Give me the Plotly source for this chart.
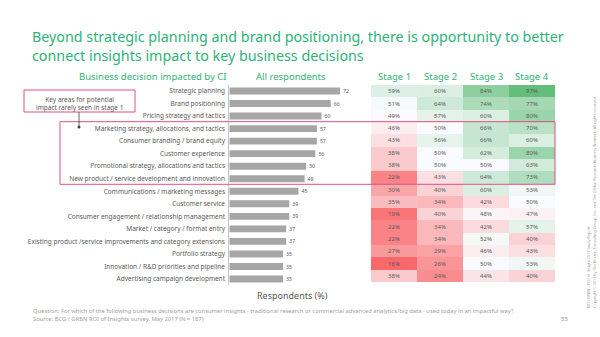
import plotly.graph_objects as go

W, H = 600, 337

# Survey data: share of respondents reporting CI impact per business decision
decisions = [
    "Strategic planning",
    "Brand positioning",
    "Pricing strategy and tactics",
    "Marketing strategy, allocations, and tactics",
    "Consumer branding / brand equity",
    "Customer experience",
    "Promotional strategy, allocations and tactics",
    "New product / service development and innovation",
    "Communications / marketing messages",
    "Customer service",
    "Consumer engagement / relationship management",
    "Market / category / format entry",
    "Existing product /service improvements and category extensions",
    "Portfolio strategy",
    "Innovation / R&D priorities and pipeline",
    "Advertising campaign development",
]
all_respondents = [72, 66, 60, 57, 57, 56, 50, 49, 45, 39, 39, 37, 37, 35, 35, 35]

stages = ["Stage 1", "Stage 2", "Stage 3", "Stage 4"]
stage1 = [59, 51, 49, 46, 43, 38, 38, 22, 30, 35, 19, 22, 22, 27, 16, 38]
stage2 = [60, 64, 57, 50, 56, 50, 50, 43, 40, 34, 40, 34, 34, 29, 26, 24]
stage3 = [84, 74, 60, 66, 66, 62, 50, 64, 60, 42, 48, 42, 52, 46, 50, 44]
stage4 = [97, 77, 80, 70, 60, 80, 63, 73, 53, 50, 47, 57, 40, 43, 53, 40]

FONT = "Noto Sans"
GREEN = "#2DB37A"
PINK = "#E0507F"
GREY_TXT = "#5A5A5A"
BAR = "#A6A6A6"


def px(x):
    return x / W


def py(y):
    return 1 - y / H


z = [list(r) for r in zip(stage1, stage2, stage3, stage4)]
zmin, zmax, zmid = 16, 97, 49.5
colorscale = [
    [0.0, "#F8696B"],
    [(zmid - zmin) / (zmax - zmin), "#FCFCFF"],
    [1.0, "#63BE7B"],
]

fig = go.Figure()

fig.add_trace(go.Bar(
    x=all_respondents, y=decisions, orientation="h",
    marker=dict(color=BAR, line=dict(width=0)),
    text=[str(v) for v in all_respondents], textposition="outside",
    textfont=dict(size=7.5, color=GREY_TXT, family=FONT),
    cliponaxis=False, xaxis="x", yaxis="y", hoverinfo="skip",
))

fig.add_trace(go.Heatmap(
    z=z, x=stages, y=decisions, xaxis="x2", yaxis="y2",
    colorscale=colorscale, zmin=zmin, zmax=zmax, showscale=False,
    texttemplate="%{z}%", textfont=dict(size=6, color=GREY_TXT, family=FONT),
    hoverinfo="skip",
))

scale = 1.537  # px per percentage point
x0_bar = 229.3
fig.update_layout(
    width=W, height=H, margin=dict(l=0, r=0, t=0, b=0),
    paper_bgcolor="white", plot_bgcolor="rgba(0,0,0,0)",
    showlegend=False, bargap=0.45,
    font=dict(family=FONT, color=GREY_TXT),
    xaxis=dict(domain=[px(x0_bar), px(x0_bar + scale * 90)], range=[0, 90],
               visible=False, fixedrange=True),
    yaxis=dict(domain=[py(285.3), py(84.7)], autorange="reversed",
               categoryorder="array", categoryarray=decisions,
               showline=True, linecolor="#C8C8C8", linewidth=1,
               ticks="", showgrid=False, zeroline=False,
               tickfont=dict(size=6.5, color=GREY_TXT, family=FONT),
               ticklabelstandoff=2),
    xaxis2=dict(domain=[px(371), px(555)], visible=False, fixedrange=True),
    yaxis2=dict(domain=[py(282.3), py(85)], autorange="reversed",
                categoryorder="array", categoryarray=decisions,
                visible=False),
)

ann = []


def text(x, y, s, size, color, xanchor="left", yanchor="middle", **kw):
    ann.append(dict(x=px(x), y=py(y), xref="paper", yref="paper", text=s,
                    showarrow=False, xanchor=xanchor, yanchor=yanchor,
                    font=dict(size=size, color=color, family=FONT), **kw))


# Title
text(30, 45.8,
     "Beyond strategic planning and brand positioning, there is opportunity to better"
     "<br>connect insights impact to key business decisions",
     14.3, GREEN, align="left")

# Column headers
text(152.5, 76, "Business decision impacted by CI", 9.5, GREEN, xanchor="center")
text(291, 76, "All respondents", 9.5, GREEN, xanchor="center")
for i, s in enumerate(stages):
    ann.append(dict(x=i, y=py(76), xref="x2", yref="paper", text=s, showarrow=False,
                    xanchor="center", yanchor="middle",
                    font=dict(size=9.5, color=GREEN, family=FONT)))

# Axis title
text(292, 295, "Respondents (%)", 9, GREY_TXT, xanchor="center")

# Callout text
text(79.5, 103, "Key areas for potential<br>impact rarely seen in stage 1", 6.5, GREY_TXT, xanchor="center")

# Footnotes
text(30.5, 314.7,
     "Question: For which of the following business decisions are consumer insights - traditional research or commercial advanced analytics/big data - used today in an impactful way?"
     "<br>Source: BCG / GRBN ROI of Insights survey, May 2017 (N = 187)",
     5.8, "#A0A0A0", align="left")
text(564, 319, "55", 6, "#909090", xanchor="center")

# Vertical copyright lines
ann.append(dict(x=px(587.7), y=py(310), xref="paper", yref="paper",
                text="BCG GRBN – ROI of Insight 2017 Study Report", showarrow=False,
                textangle=-90, xanchor="center", yanchor="bottom",
                font=dict(size=3.8, color="#A0A0A0", family=FONT)))
ann.append(dict(x=px(594), y=py(310), xref="paper", yref="paper",
                text="Copyright © 2017 by The Boston Consulting Group, Inc. and The Global Research Business Network. All rights reserved.",
                showarrow=False, textangle=-90, xanchor="center", yanchor="bottom",
                font=dict(size=3.8, color="#A0A0A0", family=FONT)))

fig.update_layout(annotations=ann)

shapes = [
    # callout box
    dict(type="rect", xref="paper", yref="paper", x0=px(24), x1=px(135), y0=py(112), y1=py(90),
         line=dict(color=PINK, width=1)),
    # highlight frame around rows
    dict(type="rect", xref="paper", yref="paper", x0=px(60), x1=px(555), y0=py(184.3), y1=py(121.7),
         line=dict(color=PINK, width=1)),
    # connector from callout to frame
    dict(type="line", xref="paper", yref="paper", x0=px(79), x1=px(79), y0=py(112), y1=py(127),
         line=dict(color="#404040", width=0.8)),
    dict(type="circle", xref="paper", yref="paper", x0=px(77.5), x1=px(80.5), y0=py(128.5), y1=py(125.5),
         fillcolor="#404040", line=dict(width=0)),
]
fig.update_layout(shapes=shapes)

fig.write_html("out.html")
